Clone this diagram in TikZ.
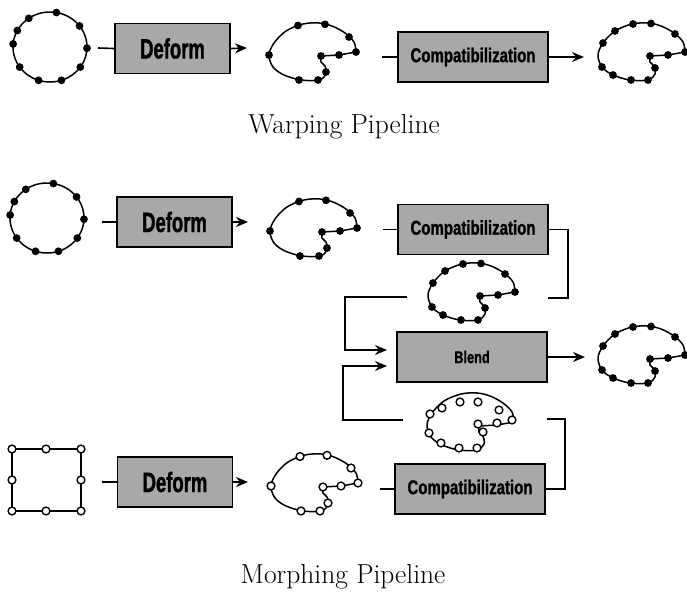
\documentclass[tikz,border=0pt]{standalone}
\usepackage{fontspec}
\usepackage{tikz}
\usetikzlibrary{positioning, arrows.meta}
\newfontfamily\stagefont[FakeStretch=0.66, BoldFeatures={FakeBold=1.2}]{Liberation Sans}
\newfontfamily\stagefontwide[FakeStretch=0.75, BoldFeatures={FakeBold=1.2}]{Liberation Sans}
\definecolor{boxGray}{RGB}{168,168,168}

% outline of the deformed shape, centred on its own origin
\newcommand{\cupoutline}{plot[smooth, tension=0.55] coordinates {(45,0) (43,-10) (34,-19) (21,-26) (8,-29) (-8,-28) (-25,-21) (-37,-9) (-42,3) (-38,15) (-27,23) (-10,28) (8,28) (15,22) (14,14) (10,10) (10,4)} -- (28,3) -- cycle}
\newcommand{\dotsA}{(-13,-26.5), (14,-27.7), (-42,3), (-12,28), (7,28), (15,20), (10,4), (38,-15), (45,0), (28,3)}
\newcommand{\dotsR}{(-37,-9), (-25,-21), (-7,-28), (11,-28.5), (35,-18), (45,0), (28,3), (10,4), (15,16), (8,28), (-9,28), (-27,23), (-38,15)}

\begin{document}
\begin{tikzpicture}[x=1pt, y=-1pt,
    stage/.style={draw, line width=1.8pt, fill=boxGray, inner sep=0pt, minimum height=50pt},
    deformbox/.style={stage, minimum width=115pt, font=\stagefont\bfseries\fontsize{28}{30}\selectfont},
    compatbox/.style={stage, minimum width=150pt, font=\stagefontwide\bfseries\fontsize{20}{22}\selectfont},
    wire/.style={line width=1.6pt},
    flow/.style={wire, -{Stealth[length=12pt, width=10pt]}},
    outline/.style={line width=1.5pt},
    fdot/.style={fill=black},
    odot/.style={draw=black, fill=white, line width=1.4pt},
    caption/.style={font=\fontsize{27.5}{32}\selectfont}
  ]
  \useasboundingbox (0,0) rectangle (687,595);

  % ---- warping pipeline ----
  \draw[outline] (50,47) ellipse [x radius=37pt, y radius=35pt];
  \foreach \a in {125,80,37,-2,-35,-72,-108,-145,175,152}
    \fill[fdot] (50,47) ++(\a:37pt and 35pt) circle [radius=3.9pt];
  \node[deformbox] (deformA) at (172.5,48.5) {Deform};
  \begin{scope}[shift={(311,52)}]
    \draw[outline] \cupoutline;
    \foreach \p in \dotsA \fill[fdot] \p circle [radius=3.9pt];
  \end{scope}
  \node[compatbox] (compatA) at (473,57) {Compatibilization};
  \begin{scope}[shift={(640,52)}]
    \draw[outline] \cupoutline;
    \foreach \p in \dotsR \fill[fdot] \p circle [radius=3.9pt];
  \end{scope}
  \coordinate (a0) at (98,48);
  \coordinate (a1) at (247,48);
  \coordinate (a2) at (382,57);
  \coordinate (a3) at (584,57);
  \draw[wire] (a0) -- (deformA.west);
  \draw[flow] (deformA.east) -- (a1);
  \draw[wire] (a2) -- (compatA.west);
  \draw[flow] (compatA.east) -- (a3);
  \node[caption] (warpLabel) at (344,127) {Warping Pipeline};

  % ---- morphing pipeline ----
  \draw[outline] (47,218) ellipse [x radius=37pt, y radius=35pt];
  \foreach \a in {125,80,37,-2,-35,-72,-108,-145,175,152}
    \fill[fdot] (47,218) ++(\a:37pt and 35pt) circle [radius=3.9pt];
  \node[deformbox] (deformB) at (174.5,222) {Deform};
  \begin{scope}[shift={(312,228)}]
    \draw[outline] \cupoutline;
    \foreach \p in \dotsA \fill[fdot] \p circle [radius=3.9pt];
  \end{scope}
  \node[compatbox] (compatB) at (473,229.5) {Compatibilization};
  \begin{scope}[shift={(470,292)}]
    \draw[outline] \cupoutline;
    \foreach \p in \dotsR \fill[fdot] \p circle [radius=3.9pt];
  \end{scope}
  \node[stage, minimum width=150pt, font=\stagefontwide\bfseries\fontsize{17}{19}\selectfont] (blend) at (472,357) {Blend};
  \begin{scope}[shift={(640,355)}]
    \draw[outline] \cupoutline;
    \foreach \p in \dotsR \fill[fdot] \p circle [radius=3.9pt];
  \end{scope}
  \begin{scope}[shift={(469,422)}]
    \draw[outline] \cupoutline;
    \foreach \p in {(-39,-8), (-27,-14), (-9,-20), (9,-20), (30,-12), (43,-2), (28,1), (9,2), (14,10), (8,26), (-10,26), (-28,21), (-40,11)}
      \draw[odot] \p circle [radius=3.9pt];
  \end{scope}
  \draw[outline] (12,449) rectangle (81,511);
  \foreach \p in {(12,449), (46,449), (81,449), (81,480), (81,511), (46,511), (12,511), (12,480)}
    \draw[odot] \p circle [radius=3.9pt];
  \node[deformbox] (deformC) at (175,482) {Deform};
  \begin{scope}[shift={(313,483)}]
    \draw[outline] \cupoutline;
    \foreach \p in \dotsA \draw[odot] \p circle [radius=3.9pt];
  \end{scope}
  \node[compatbox] (compatC) at (470,489) {Compatibilization};

  \coordinate (b0) at (102,222);
  \coordinate (b1) at (248,222);
  \coordinate (b2) at (383,229.5);
  \coordinate (b3) at (548,298);
  \coordinate (b4) at (407,297);
  \coordinate (in1) at (387,350);
  \coordinate (in2) at (387,366);
  \coordinate (out) at (585,357);
  \coordinate (c0) at (102,482);
  \coordinate (c1) at (248,482);
  \coordinate (c2) at (380,489);
  \coordinate (c3) at (547,419);
  \coordinate (c4) at (403,420);
  \draw[wire] (b0) -- (deformB.west);
  \draw[flow] (deformB.east) -- (b1);
  \draw[wire] (b2) -- (compatB.west);
  \draw[wire] (compatB.east) -- ++(19,0) |- (b3);
  \draw[flow] (b4) -- ++(-62,0) |- (in1);
  \draw[flow] (c4) -- ++(-60,0) |- (in2);
  \draw[flow] (blend.east) -- (out);
  \draw[wire] (c3) -- ++(18,0) |- (compatC.east);
  \draw[wire] (c0) -- (deformC.west);
  \draw[flow] (deformC.east) -- (c1);
  \draw[wire] (c2) -- (compatC.west);
  \node[caption] (morphLabel) at (343,577) {Morphing Pipeline};
\end{tikzpicture}
\end{document}
